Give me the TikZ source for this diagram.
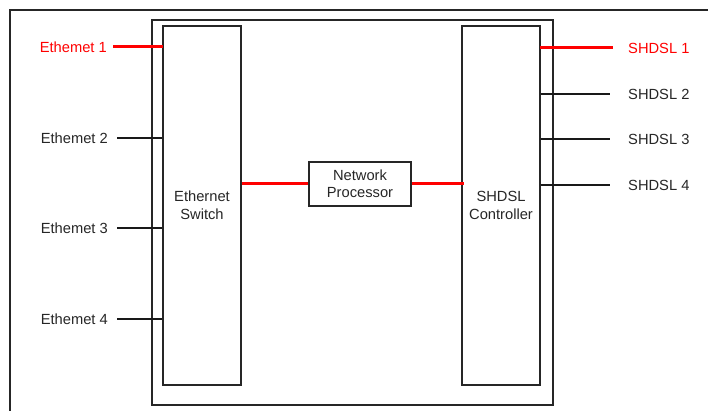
\documentclass[tikz,border=0pt]{standalone}
\usepackage{fontspec}
\setmainfont{Liberation Sans}
\usetikzlibrary{calc}
\tikzset{
  lbl/.style={font=\fontsize{14.7}{17}\selectfont, text=black!85, inner sep=0pt},
  box/.style={draw=black!85, line width=1.2pt, font=\fontsize{14.7}{18}\selectfont, text=black!85, align=center, inner sep=0pt},
  port/.style={draw=black!90, line width=1.2pt},
  hot/.style={draw=red, line width=3pt},
}
\begin{document}
\begin{tikzpicture}[x=1pt,y=-1pt]
  \useasboundingbox (0,0) rectangle (708,411);
  \clip (0,0) rectangle (708,411);

  % Outer frame (runs off the page)
  \draw[box] (730,10) -- (10,10) -- (10,430);

  % Housing
  \draw[box] (152,20) rectangle (553,405);

  % Switch, controller, processor
  \node[box, minimum width=78pt, minimum height=359pt] (sw) at (202,205.5) {Ethernet\\Switch};
  \node[box, minimum width=78pt, minimum height=359pt] (ctrl) at (501,205.5) {SHDSL\\Controller};
  \node[box, minimum width=102pt, minimum height=44pt, font=\fontsize{14.7}{17}\selectfont] (np) at (360,184) {Network\\Processor};

  % Data path
  \draw[hot] (sw.east |- np.west) -- (np.west);
  \draw[hot] (np.east) -- ([xshift=3pt]ctrl.west |- np.east);

  % Ethernet ports
  \node[lbl, anchor=east, text=red] (eth1) at (107,47) {Ethemet 1};
  \draw[hot] ([xshift=6pt]eth1.east) -- ([xshift=1pt]sw.west |- eth1.east);
  \foreach \n/\y in {2/138, 3/228, 4/319} {
    \node[lbl, anchor=east] (eth\n) at (108,\y) {Ethemet \n};
    \draw[port] ([xshift=9pt]eth\n.east) -- (sw.west |- eth\n.east);
  }

  % SHDSL ports
  \node[lbl, anchor=west, text=red] (sh1) at (628,48) {SHDSL 1};
  \draw[hot] ([xshift=-1pt]ctrl.east |- sh1.west) -- ([xshift=-15pt]sh1.west);
  \foreach \n/\y in {2/94, 3/139, 4/185} {
    \node[lbl, anchor=west] (sh\n) at (628,\y) {SHDSL \n};
    \draw[port] (ctrl.east |- sh\n.west) -- ([xshift=-18pt]sh\n.west);
  }
\end{tikzpicture}
\end{document}
